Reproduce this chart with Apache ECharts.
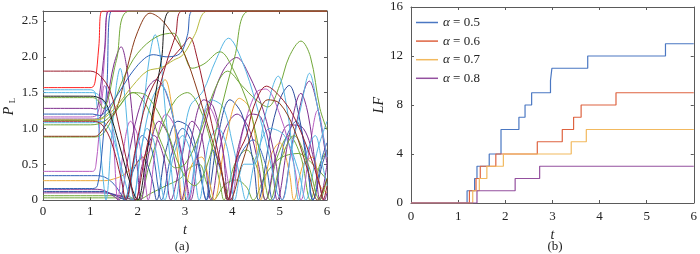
<!DOCTYPE html>
<html><head><meta charset="utf-8">
<script src="https://cdn.jsdelivr.net/npm/echarts@6/dist/echarts.min.js"></script>
<style>html,body{margin:0;padding:0;background:#fff}#c{width:700px;height:254px}</style>
</head><body><div id="c"></div>
<script>
// ---------- axis ticks ----------
const tTicks = [0, 1, 2, 3, 4, 5, 6];
const pTicks = [0, 0.5, 1.0, 1.5, 2.0, 2.5];
const lfTicks = [0, 4, 8, 12, 16];
const pMax = 2.64;

// ---------- panel (a): P_L(t) curves, [t, P] ----------
const pMagA = [[0,1.16],[1.0,1.16],[1.15,1.2],[1.25,1.6],[1.32,2.2],[1.37,2.64],[6,2.64]];
const pPurA = [[0,1.28],[1.0,1.28],[1.12,1.27],[1.2,1.5],[1.3,2.1],[1.4,2.64],[6,2.64]];
const pBluC = [[0,0.16],[1.05,0.16],[1.15,0.2],[1.25,0.7],[1.35,1.6],[1.45,2.64],[6,2.64]];
const pBlack = [[0,1.45],[1.0,1.45],[1.13,1.44],[1.3,1.38],[1.42,1.2],[1.6,0.8],[1.84,0.24],[2.0,0.0],[2.15,0.45],[2.33,1.28],[2.5,1.95],[2.7,2.64],[6,2.64]];
const pBluA = [[0,1.2],[1.05,1.2],[1.2,1.18],[1.4,1.3],[1.65,1.55],[1.9,1.8],[2.15,1.98],[2.33,2.03],[2.6,2.0],[2.9,2.05],[3.05,2.3],[3.17,2.64],[6,2.64]];
const pOlive = [[0,1.12],[1.05,1.12],[1.3,1.15],[1.6,1.35],[1.9,1.6],[2.2,1.8],[2.5,1.85],[2.75,1.95],[2.96,2.03],[3.2,2.3],[3.49,2.64],[6,2.64]];
const pGrnC = [[0,1.05],[1.0,1.05],[1.3,1.1],[1.6,1.3],[1.9,1.5],[2.2,1.45],[2.6,1.0],[2.9,0.45],[3.2,0.2],[3.45,0.45],[3.74,1.21],[4.05,2.0],[4.37,2.64],[6,2.64]];
const pCyaA = [[0,1.54],[1.0,1.54],[1.1,1.5],[1.18,1.0],[1.27,0.3],[1.33,0.0],[1.45,0.9],[1.55,1.6],[1.63,1.84],[1.72,1.5],[1.82,0.7],[1.92,0.0],[2.05,0.6],[2.2,1.0],[2.35,0.8],[2.5,0.2],[2.57,0.0],[2.75,0.6],[2.95,0.9],[3.15,0.6],[3.3,0.0],[3.5,0.8],[3.7,1.0],[3.9,0.7],[4.05,0.0],[4.25,0.5],[4.45,0.5],[4.7,1.2],[4.97,1.73],[5.15,1.3],[5.3,0.5],[5.4,0.0],[5.55,0.6],[5.75,0.9],[5.9,0.5],[6.0,0.2]];
const pCyaB = [[0,1.5],[1.05,1.5],[1.2,1.45],[1.4,1.2],[1.6,0.6],[1.75,0.0],[1.95,0.6],[2.12,1.28],[2.25,2.0],[2.37,2.31],[2.48,2.0],[2.58,1.28],[2.7,0.5],[2.8,0.0],[2.95,0.7],[3.1,1.3],[3.38,1.52],[3.65,1.95],[3.92,2.26],[4.2,1.95],[4.5,1.35],[4.75,0.7],[4.95,0.1],[5.05,0.0],[5.25,0.7],[5.45,1.3],[5.63,1.77],[5.8,1.3],[6.0,0.6]];
const pCyaC = [[0,1.08],[1.05,1.08],[1.2,1.1],[1.4,1.0],[1.6,0.6],[1.8,0.1],[1.88,0.0],[2.1,0.8],[2.3,1.4],[2.5,1.6],[2.7,1.3],[2.9,0.6],[3.05,0.0],[3.3,0.9],[3.55,1.4],[3.8,1.3],[4.0,0.8],[4.2,0.2],[4.28,0.0],[4.5,0.6],[4.8,1.0],[5.1,0.9],[5.4,0.4],[5.55,0.0],[5.8,0.7],[6.0,1.1]];
const pPurB = [[0,1.13],[1.05,1.13],[1.2,1.15],[1.35,1.4],[1.5,1.9],[1.65,2.14],[1.78,1.8],[1.9,1.1],[2.0,0.4],[2.07,0.0],[2.25,0.7],[2.45,1.1],[2.65,0.9],[2.85,0.3],[2.92,0.0],[3.15,0.9],[3.4,1.4],[3.6,1.3],[3.8,0.7],[3.92,0.0],[4.15,0.8],[4.4,1.2],[4.6,1.16],[4.8,0.7],[4.95,0.0],[5.2,0.9],[5.45,1.49],[5.6,1.2],[5.75,0.5],[5.85,0.0],[6.0,0.5]];
const pPurC = [[0,0.15],[1.1,0.15],[1.3,0.13],[1.5,0.05],[1.6,0.0],[1.8,0.6],[2.0,1.2],[2.2,1.55],[2.4,1.68],[2.6,1.5],[2.8,1.0],[3.0,0.4],[3.12,0.0],[3.3,0.7],[3.52,1.28],[3.8,1.8],[4.09,1.99],[4.35,1.75],[4.65,1.26],[4.9,0.6],[5.05,0.0],[5.3,0.9],[5.63,1.66],[5.8,1.3],[6.0,0.5]];
const pPurD = [[0,0.1],[1.2,0.1],[1.5,0.08],[1.8,0.02],[1.95,0.0],[2.1,0.5],[2.35,0.9],[2.55,0.6],[2.7,0.0],[2.9,0.5],[3.15,1.1],[3.35,0.9],[3.55,0.0],[3.8,0.9],[4.1,1.2],[4.35,1.0],[4.55,0.5],[4.7,0.0],[4.95,0.7],[5.2,1.05],[5.5,1.0],[5.75,0.5],[5.95,0.0],[6.0,0.1]];
const pMagB = [[0,0.4],[1.05,0.4],[1.12,0.5],[1.22,1.2],[1.3,1.6],[1.42,1.3],[1.5,0.7],[1.58,0.0],[1.7,0.7],[1.85,1.1],[2.0,0.9],[2.15,0.3],[2.22,0.0],[2.4,0.8],[2.6,1.2],[2.8,1.0],[3.0,0.4],[3.08,0.0],[3.3,0.9],[3.5,1.3],[3.7,1.0],[3.9,0.3],[3.97,0.0],[4.2,0.9],[4.5,1.5],[4.7,1.55],[5.0,1.2],[5.3,0.5],[5.45,0.0],[5.65,0.8],[5.8,1.25],[5.95,0.8],[6.0,0.6]];
const pBluB = [[0,0.34],[1.1,0.34],[1.3,0.32],[1.5,0.22],[1.65,0.08],[1.72,0.0],[1.9,0.5],[2.1,0.9],[2.3,0.7],[2.45,0.1],[2.5,0.0],[2.7,0.6],[2.95,1.0],[3.2,0.7],[3.4,0.1],[3.45,0.0],[3.59,0.7],[3.8,0.3],[3.9,0.0],[4.15,0.6],[4.44,0.84],[4.7,0.5],[4.85,0.0],[5.1,0.8],[5.35,1.1],[5.55,0.7],[5.7,0.0],[5.9,0.6],[6.0,0.8]];
const pBluD = [[0,0.12],[1.2,0.12],[1.4,0.1],[1.6,0.04],[1.75,0.0],[1.9,0.4],[2.1,0.6],[2.3,0.3],[2.4,0.0],[2.6,0.7],[2.85,1.1],[3.1,1.0],[3.3,0.5],[3.45,0.0],[3.7,0.9],[3.95,1.4],[4.2,1.2],[4.45,0.5],[4.55,0.0],[4.8,0.9],[5.0,1.4],[5.2,1.6],[5.4,1.2],[5.6,0.4],[5.7,0.0],[5.9,0.5],[6.0,0.7]];
const pOrange = [[0,0.27],[1.3,0.27],[1.42,0.28],[1.7,0.35],[2.05,0.56],[2.26,0.7],[2.37,1.4],[2.45,1.55],[2.58,1.68],[2.7,1.4],[2.85,0.6],[2.95,0.0],[3.15,0.5],[3.35,0.6],[3.5,0.3],[3.62,0.0],[3.85,0.8],[4.15,1.42],[4.35,1.3],[4.5,0.8],[4.6,0.0],[4.8,0.6],[5.0,0.8],[5.2,0.4],[5.3,0.0],[5.5,0.5],[5.7,0.6],[5.85,0.2],[6.0,0.1]];
const pGrnB = [[0,1.11],[1.0,1.11],[1.2,1.13],[1.42,1.26],[1.7,1.7],[2.0,2.05],[2.4,2.28],[2.75,2.33],[2.95,2.1],[3.15,1.84],[3.4,1.9],[3.74,2.07],[4.0,1.85],[4.37,1.26],[4.6,0.6],[4.8,0.0],[5.05,0.6],[5.3,0.9],[5.6,0.5],[5.85,0.0],[6.0,0.3]];
const pGrnD = [[0,0.88],[1.1,0.88],[1.3,0.95],[1.6,1.3],[1.9,1.5],[2.2,1.3],[2.5,0.8],[2.8,0.45],[3.0,0.5],[3.3,0.9],[3.6,1.5],[3.9,1.8],[4.2,1.6],[4.5,1.4],[4.75,1.3],[5.0,1.6],[5.2,2.0],[5.45,2.22],[5.65,2.0],[5.85,1.28],[6.0,0.98]];
const pGrnE = [[0,0.06],[1.5,0.06],[1.8,0.05],[1.98,0.0],[2.3,0.1],[2.6,0.2],[2.9,0.3],[3.1,0.45],[3.3,0.5],[3.45,0.25],[3.6,0.0],[3.85,0.22],[4.08,0.28],[4.3,0.18],[4.44,0.0],[4.7,0.35],[5.0,0.58],[5.39,0.65],[5.7,0.5],[6.0,0.28]];
const pGrnF = [[0,0.03],[1.5,0.03],[1.8,0.02],[2.0,0.0],[2.25,0.5],[2.5,1.0],[2.8,1.4],[3.05,1.5],[3.3,1.3],[3.55,0.8],[3.75,0.2],[3.82,0.0],[4.05,0.5],[4.3,0.7],[4.55,0.4],[4.7,0.0],[4.95,0.6],[5.2,0.9],[5.45,0.6],[5.65,0.0],[5.85,0.5],[6.0,0.7]];
const pBrown = [[0,0.89],[1.1,0.89],[1.2,0.93],[1.35,1.07],[1.56,1.28],[1.8,1.9],[2.0,2.35],[2.26,2.61],[2.5,2.52],[2.75,2.3],[3.0,2.02],[3.25,1.55],[3.5,1.0],[3.75,0.45],[3.95,0.0],[4.2,0.5],[4.5,1.1],[4.75,1.4],[5.0,1.35],[5.3,1.0],[5.6,0.4],[5.8,0.0],[6.0,0.3]];
const pDRed2 = [[0,1.10],[1.05,1.10],[1.25,1.05],[1.45,0.8],[1.65,0.3],[1.75,0.0],[1.95,0.7],[2.2,1.4],[2.5,1.8],[2.75,2.0],[2.95,2.15],[3.1,2.27],[3.25,2.0],[3.5,1.26],[3.75,0.5],[3.9,0.0],[4.1,0.6],[4.3,0.9],[4.45,1.3],[4.72,1.59],[5.0,1.45],[5.28,1.19],[5.6,0.7],[5.85,0.2],[5.92,0.0],[6.0,0.2]];
const pRed = [[0,1.57],[1.02,1.57],[1.1,1.65],[1.18,2.15],[1.25,2.64],[6,2.64]];
const pGrnA = [[0,1.43],[1.05,1.43],[1.15,1.4],[1.27,1.28],[1.55,1.95],[1.84,2.64],[6,2.64]];
const pDRed1 = [[0,1.8],[1.0,1.8],[1.2,1.74],[1.42,1.52],[1.6,1.05],[1.8,0.45],[1.95,0.0],[2.15,0.6],[2.4,1.4],[2.6,1.9],[2.8,2.3],[2.95,2.64],[6,2.64]];

// ---------- panel (b): LF(t) step series, [t, LF] ----------
const alphaNames = ['α = 0.5', 'α = 0.6', 'α = 0.7', 'α = 0.8'];
const lf05 = [[0,0],[1.19,1],[1.35,2],[1.40,3],[1.66,4],[1.91,6],[2.29,7],[2.42,8],[2.56,9],[2.96,10],[2.99,11],[3.75,12],[5.40,13],[6,13]];
const lf06 = [[0,0],[1.24,1],[1.38,2],[1.47,3],[1.80,4],[2.68,5],[3.21,6],[3.45,7],[3.61,8],[4.35,9],[6,9]];
const lf07 = [[0,0],[1.31,1],[1.45,2],[1.61,3],[1.96,4],[3.40,5],[3.72,6],[6,6]];
const lf08 = [[0,0],[1.40,1],[2.21,2],[2.73,3],[6,3]];

// ---------- styling ----------
const C = {
  blue:'#2f62b8', dblue:'#2a4a9c', cyan:'#56b6e4', green:'#72a83a', olive:'#b6b83c',
  purple:'#7e2f8e', magenta:'#b85cc0', red:'#ff2020', dred:'#9a1c2c', brown:'#8a3a18',
  orange:'#eda838', black:'#1a1a1a'
};
const leftCurves = [
  [pGrnE,C.green],[pGrnF,C.green],[pPurD,C.purple],[pBluD,C.dblue],[pBluB,C.blue],
  [pOrange,C.orange],[pMagB,C.magenta],[pPurC,C.purple],[pCyaC,C.cyan],[pGrnD,C.green],
  [pPurB,C.purple],[pCyaA,C.cyan],[pCyaB,C.cyan],[pGrnB,C.green],[pDRed2,C.dred],
  [pBrown,C.brown],[pMagA,C.magenta],[pPurA,C.purple],[pBluC,C.blue],[pBlack,C.black],
  [pBluA,C.blue],[pOlive,C.olive],[pGrnC,C.green],[pRed,C.red],[pGrnA,C.green],[pDRed1,C.dred]
];
const rightData = [lf05, lf06, lf07, lf08];
const rightColors = ['#4a77c2', '#de6340', '#f2b95e', '#94509f'];

const FONT = "Liberation Serif";
const AX = '#5a5a5a';
const txt = { fontFamily: FONT, fontSize: 13, color: '#222' };

function xAx(grid, pos, show, margin, name, gap) {
  return {
    type:'value', gridIndex:grid, position:pos, min:0, max:6, interval:1,
    axisLine:{show:true, onZero:false, lineStyle:{color:AX, width:1}},
    axisTick:{show:true, inside:true, length:3, lineStyle:{color:AX}},
    axisLabel:Object.assign({show:show, margin:margin}, txt),
    splitLine:{show:false},
    name: show ? name : '', nameLocation:'middle', nameGap:gap,
    nameTextStyle:{fontFamily:FONT, fontSize:14, fontStyle:'italic', color:'#222'}
  };
}
function yAx(grid, pos, show, min, max, interval, margin, fmt, name, gap) {
  return {
    type:'value', gridIndex:grid, position:pos, min:min, max:max, interval:interval,
    axisLine:{show:true, onZero:false, lineStyle:{color:AX, width:1}},
    axisTick:{show:true, inside:true, length:3, lineStyle:{color:AX}},
    axisLabel:Object.assign({show:show, margin:margin, formatter:fmt, showMaxLabel: max !== 16 ? false : true}, txt),
    splitLine:{show:false},
    name: show && name ? name : '', nameLocation:'middle', nameGap:gap,
    nameTextStyle:{fontFamily:FONT, fontSize:14, fontStyle:'italic', color:'#222'}
  };
}
const pFmt = v => (pTicks.indexOf(v) < 0 ? '' : (v === 0 ? '0' : v.toFixed(1)));
const lfFmt = v => (lfTicks.indexOf(v) < 0 ? '' : String(v));

const series = [];
leftCurves.forEach((c, i) => {
  series.push({
    type:'line', name:'c' + i, xAxisIndex:0, yAxisIndex:0, data:c[0],
    smooth:0.35, showSymbol:false, symbol:'none',
    lineStyle:{color:c[1], width:1}, itemStyle:{color:c[1]}, z:2 + i * 0.01
  });
});
rightData.forEach((d, i) => {
  series.push({
    type:'line', name:alphaNames[i], xAxisIndex:2, yAxisIndex:2, data:d, step:'end',
    showSymbol:false, symbol:'none', lineStyle:{color:rightColors[i], width:1.2},
    itemStyle:{color:rightColors[i]}, z:3 + i * 0.01
  });
});

const option = {
  animation:false,
  backgroundColor:'#fff',
  grid:[
    {left:43, top:11, width:284, height:189},
    {left:411, top:7, width:285, height:196}
  ],
  xAxis:[
    xAx(0,'bottom',true,5,'t',21), xAx(0,'top',false,5,'',0),
    xAx(1,'bottom',true,7,'t',18), xAx(1,'top',false,5,'',0)
  ],
  yAxis:[
    yAx(0,'left',true,0,pMax,0.5,5,pFmt,'',0), yAx(0,'right',false,0,pMax,0.5,5,pFmt,'',0),
    yAx(1,'left',true,0,16,4,8,lfFmt,'LF',24), yAx(1,'right',false,0,16,4,8,lfFmt,'',0)
  ],
  legend:{
    data:alphaNames, orient:'vertical', left:416, top:15, padding:0, icon:'rect',
    itemWidth:22, itemHeight:1.5, itemGap:3.6,
    textStyle:{fontFamily:FONT, fontSize:13, color:'#222', lineHeight:15,
      rich:{i:{fontFamily:FONT, fontSize:13, fontStyle:'italic', color:'#222'}}},
    formatter: n => '{i|α}' + n.slice(1)
  },
  graphic:[
    {type:'text', x:9.5, y:111, rotation:Math.PI/2,
     style:{text:'P', fontFamily:FONT, fontSize:14, fontStyle:'italic', fill:'#222', align:'center', verticalAlign:'middle'}},
    {type:'text', x:13, y:100.5, rotation:Math.PI/2,
     style:{text:'L', fontFamily:FONT, fontSize:9, fill:'#222', align:'center', verticalAlign:'middle'}},
    {type:'text', x:182, y:247, style:{text:'(a)', fontFamily:FONT, fontSize:13, fill:'#222', align:'center', verticalAlign:'middle'}},
    {type:'text', x:555, y:247, style:{text:'(b)', fontFamily:FONT, fontSize:13, fill:'#222', align:'center', verticalAlign:'middle'}}
  ],
  series:series
};
const chart = echarts.init(document.getElementById('c'), null, {renderer:'canvas'});
chart.setOption(option);
</script></body></html>
